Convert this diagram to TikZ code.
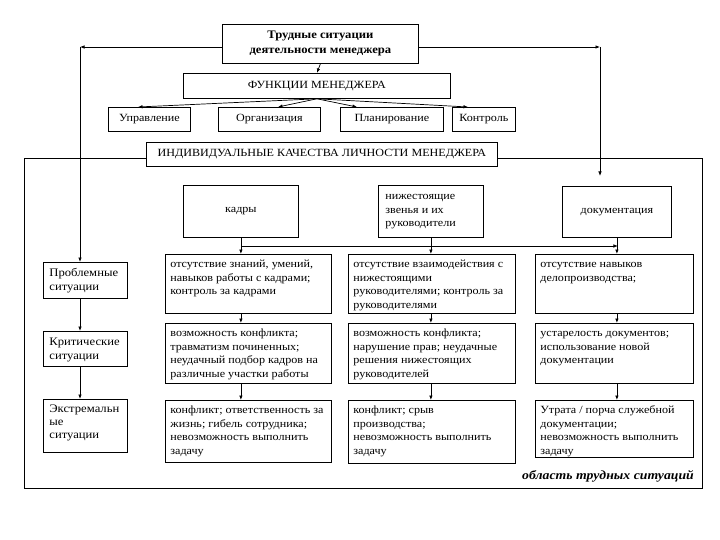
\documentclass[tikz,border=0pt]{standalone}
\usepackage{fontspec}
\setmainfont{Liberation Serif}[FakeStretch=1.1]
\usetikzlibrary{arrows.meta,shadows,calc}
\newcommand{\bt}[3]{\parbox[c][#2][t]{#1}{\raggedright\strut #3}}
\begin{document}
\begin{tikzpicture}[x=1pt,y=-1pt,
  bx/.style={draw, line width=0.8pt, fill=white,
    drop shadow={shadow xshift=0.9pt, shadow yshift=-0.9pt, fill=black!75, opacity=1},
    anchor=north west, inner xsep=5pt, inner ysep=4pt,
    font=\fontsize{11}{13.5}\selectfont},
  cbx/.style={bx, inner sep=0pt, align=center},
  con/.style={line width=0.7pt, -{Latex[length=4.5pt,width=3.5pt]}},
  ln/.style={line width=0.7pt}]
\useasboundingbox (0,0) rectangle (720,540);
\fill[white] (0,0) rectangle (720,540);

% region
\node[draw, line width=0.8pt,
  drop shadow={shadow xshift=0.9pt, shadow yshift=-0.9pt, fill=black!75, opacity=1},
  fill=white, anchor=north west, inner sep=0pt,
  minimum width=678pt, minimum height=330pt] (reg) at (24,158) {};
\node[font=\bfseries\itshape\fontsize{12.5}{14}\selectfont, anchor=south east, inner sep=0pt] (lab) at (694,482) {область трудных ситуаций};

% top part
\node[cbx, minimum width=196pt, minimum height=39pt,
  font=\bfseries\fontsize{11.5}{15}\selectfont] (top) at (222,24) {Трудные ситуации\\деятельности менеджера};
\node[cbx, minimum width=267pt, minimum height=25pt] (func) at (183,73) {ФУНКЦИИ МЕНЕДЖЕРА};
\node[cbx, minimum width=82pt, minimum height=24pt] (upr) at (108,107) {Управление};
\node[cbx, minimum width=102pt, minimum height=24pt] (org) at (218,107) {Организация};
\node[cbx, minimum width=103pt, minimum height=24pt] (pla) at (340,107) {Планирование};
\node[cbx, minimum width=63pt, minimum height=24pt] (kon) at (452,107) {Контроль};
\node[cbx, minimum width=351pt, minimum height=24pt] (ind) at (146,142) {ИНДИВИДУАЛЬНЫЕ КАЧЕСТВА ЛИЧНОСТИ МЕНЕДЖЕРА};

% heads
\node[bx, minimum width=115pt, minimum height=52pt, inner sep=0pt, align=center] (kad) at (183,185) {кадры};
\node[bx, inner xsep=7pt, inner ysep=5pt] (niz) at (378,185) {\bt{91pt}{42pt}{нижестоящие\\звенья и их\\руководители}};
\node[bx, minimum width=109pt, minimum height=51pt, inner sep=0pt, align=center] (doc) at (562,186) {документация};

% left column
\node[bx, inner xsep=6pt, font=\fontsize{11.5}{14}\selectfont] (pro) at (43,262) {\bt{72pt}{28pt}{Проблемные\\ситуации}};
\node[bx, inner xsep=6pt, font=\fontsize{11.5}{14}\selectfont] (kri) at (43,331) {\bt{72pt}{27pt}{Критические\\ситуации}};
\node[bx, inner xsep=6pt, font=\fontsize{11.5}{13}\selectfont] (ext) at (43,399) {\bt{72pt}{45pt}{Экстремальн\\ые\\ситуации}};

% column 1
\node[bx] (r11) at (165,254) {\bt{156pt}{51pt}{отсутствие знаний, умений,\\навыков работы с кадрами;\\контроль за кадрами}};
\node[bx] (r12) at (165,323) {\bt{156pt}{52pt}{возможность конфликта;\\травматизм починенных;\\неудачный подбор кадров на\\различные участки работы}};
\node[bx] (r13) at (165,400) {\bt{156pt}{54pt}{конфликт; ответственность за\\жизнь; гибель сотрудника;\\невозможность выполнить\\задачу}};

% column 2
\node[bx] (r21) at (348,254) {\bt{157pt}{51pt}{отсутствие взаимодействия с\\нижестоящими\\руководителями; контроль за\\руководителями}};
\node[bx] (r22) at (348,323) {\bt{157pt}{52pt}{возможность конфликта;\\нарушение прав; неудачные\\решения нижестоящих\\руководителей}};
\node[bx] (r23) at (348,400) {\bt{157pt}{55pt}{конфликт; срыв\\производства;\\невозможность выполнить\\задачу}};

% column 3
\node[bx] (r31) at (535,254) {\bt{148pt}{51pt}{отсутствие навыков\\делопроизводства;}};
\node[bx] (r32) at (535,323) {\bt{148pt}{52pt}{устарелость документов;\\использование новой\\документации}};
\node[bx] (r33) at (535,400) {\bt{148pt}{49pt}{Утрата / порча служебной\\документации;\\невозможность выполнить\\задачу}};

% connectors top
\draw[con] (top.south) -- (func.north);
\draw[con] (func.south) -- ($(upr.north west)+(30,0)$);
\draw[con] (func.south) -- ($(org.north west)+(60,0)$);
\draw[con] (func.south) -- ($(pla.north west)+(17,0)$);
\draw[con] (func.south) -- ($(kon.north west)+(16,0)$);

\coordinate (cl) at (80,47);
\coordinate (cr) at (600,47);
\coordinate (ce) at (600,176);
\draw[con] (top.west |- cl) -- (cl);
\draw[con] (cl) -- (cl |- pro.north);
\draw[con] (top.east |- cr) -- (cr);
\draw[con] (cr) -- (ce);

% left chain
\draw[con] (cl |- pro.south) -- (cl |- kri.north);
\draw[con] (cl |- kri.south) -- (cl |- ext.north);

% heads to rows
\coordinate (hy) at (0,246);
\draw[con] (kad.south) -- (kad.south |- r11.north);
\draw[con] (kad.south |- hy) -- ($(doc.south |- hy)+(1,0)$);
\draw[con] (niz.south) -- (niz.south |- r21.north);
\draw[con] (doc.south) -- (doc.south |- r31.north);

% rows
\draw[con] (kad.south |- r11.south) -- (kad.south |- r12.north);
\draw[con] (kad.south |- r12.south) -- (kad.south |- r13.north);
\draw[con] (niz.south |- r21.south) -- (niz.south |- r22.north);
\draw[con] (niz.south |- r22.south) -- (niz.south |- r23.north);
\draw[con] (doc.south |- r31.south) -- (doc.south |- r32.north);
\draw[con] (doc.south |- r32.south) -- (doc.south |- r33.north);
\end{tikzpicture}
\end{document}
